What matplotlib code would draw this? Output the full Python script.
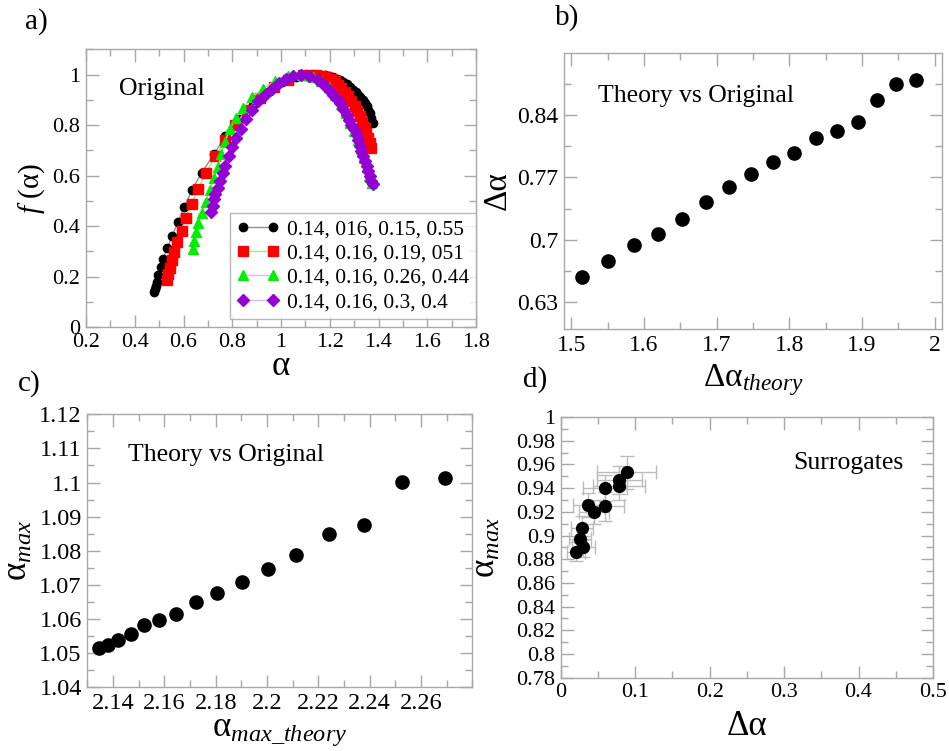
import numpy as np
import matplotlib
matplotlib.use("Agg")
import matplotlib.pyplot as plt
from matplotlib.ticker import MultipleLocator, FixedLocator, FuncFormatter

# --- DATA ---
# a) multifractal spectra f(alpha) for four parameter sets
legend_labels = ["0.14, 016, 0.15, 0.55", "0.14, 0.16, 0.19, 051",
                 "0.14, 0.16, 0.26, 0.44", "0.14, 0.16, 0.3, 0.4"]

alpha_1 = [0.479, 0.483, 0.487, 0.490, 0.496, 0.506, 0.517, 0.533, 0.554, 0.576, 0.604,
           0.634, 0.674, 0.725, 0.772, 0.828, 0.885, 0.945, 1.005, 1.063, 1.13, 1.15,
           1.165, 1.18, 1.195, 1.215, 1.228, 1.242, 1.255, 1.269, 1.283, 1.297, 1.307,
           1.317, 1.326, 1.335, 1.343, 1.351, 1.358, 1.365, 1.371, 1.376]
f_1 = [0.137, 0.150, 0.163, 0.179, 0.206, 0.236, 0.271, 0.312, 0.361, 0.415, 0.477,
       0.542, 0.611, 0.684, 0.759, 0.825, 0.880, 0.930, 0.970, 0.990, 1.000, 1.000,
       1.000, 0.998, 0.996, 0.990, 0.985, 0.978, 0.971, 0.962, 0.952, 0.940, 0.931,
       0.920, 0.911, 0.900, 0.888, 0.875, 0.862, 0.848, 0.830, 0.810]

alpha_2 = [0.531, 0.537, 0.544, 0.551, 0.562, 0.574, 0.592, 0.610, 0.633, 0.660, 0.692,
           0.730, 0.770, 0.813, 0.859, 0.913, 0.970, 1.030, 1.090, 1.120, 1.145, 1.166,
           1.186, 1.204, 1.220, 1.235, 1.248, 1.262, 1.275, 1.289, 1.302, 1.313, 1.323,
           1.333, 1.343, 1.350, 1.357, 1.364, 1.371]
f_2 = [0.187, 0.210, 0.232, 0.265, 0.298, 0.337, 0.381, 0.431, 0.488, 0.546, 0.611,
       0.676, 0.740, 0.802, 0.862, 0.908, 0.950, 0.980, 1.000, 1.000, 0.998, 0.995,
       0.990, 0.982, 0.974, 0.961, 0.947, 0.931, 0.914, 0.895, 0.875, 0.855, 0.835,
       0.812, 0.789, 0.770, 0.750, 0.730, 0.710]

alpha_3 = [0.637, 0.644, 0.651, 0.658, 0.675, 0.692, 0.708, 0.725, 0.742, 0.755, 0.770,
           0.790, 0.815, 0.845, 0.880, 0.925, 0.975, 1.030, 1.085, 1.130, 1.165, 1.195,
           1.220, 1.245, 1.265, 1.285, 1.300, 1.315, 1.328, 1.340, 1.352, 1.362, 1.372]
f_3 = [0.311, 0.341, 0.377, 0.411, 0.453, 0.495, 0.543, 0.592, 0.635, 0.684, 0.735,
       0.783, 0.830, 0.870, 0.910, 0.945, 0.975, 0.995, 1.000, 0.990, 0.975, 0.950,
       0.920, 0.885, 0.850, 0.810, 0.775, 0.740, 0.705, 0.670, 0.635, 0.600, 0.570]

alpha_4 = [0.711, 0.719, 0.725, 0.731, 0.740, 0.749, 0.760, 0.771, 0.785, 0.800, 0.815,
           0.834, 0.856, 0.879, 0.906, 0.935, 0.962, 0.990, 1.020, 1.050, 1.080, 1.115,
           1.150, 1.180, 1.200, 1.214, 1.228, 1.241, 1.255, 1.269, 1.279, 1.289, 1.300,
           1.310, 1.317, 1.323, 1.330, 1.337, 1.344, 1.351, 1.358, 1.364, 1.371, 1.376]
f_4 = [0.456, 0.480, 0.506, 0.526, 0.552, 0.578, 0.609, 0.638, 0.677, 0.714, 0.748,
       0.785, 0.825, 0.862, 0.895, 0.920, 0.945, 0.968, 0.985, 0.996, 1.000, 0.993,
       0.978, 0.954, 0.935, 0.921, 0.905, 0.888, 0.865, 0.842, 0.822, 0.802, 0.783,
       0.763, 0.740, 0.717, 0.697, 0.677, 0.657, 0.638, 0.618, 0.598, 0.580, 0.565]

# b) spectrum width, theory vs original
dalpha_theory = [1.515, 1.550, 1.586, 1.619, 1.653, 1.685, 1.717, 1.747, 1.778, 1.807,
                 1.836, 1.865, 1.894, 1.920, 1.947, 1.974]
dalpha_orig = [0.658, 0.676, 0.694, 0.707, 0.723, 0.742, 0.759, 0.774, 0.787, 0.797,
               0.814, 0.822, 0.832, 0.857, 0.875, 0.879]

# c) position of the maximum, theory vs original
amax_theory = [2.1346, 2.1381, 2.1421, 2.1469, 2.1519, 2.1580, 2.1646, 2.1724, 2.1806,
               2.1901, 2.2003, 2.2113, 2.2240, 2.2379, 2.2528, 2.2693]
amax_orig = [1.0514, 1.0524, 1.0539, 1.0556, 1.0584, 1.0597, 1.0616, 1.0649, 1.0677,
             1.0708, 1.0746, 1.0787, 1.0850, 1.0876, 1.1003, 1.1014]

# d) surrogates with error bars
dalpha_sur = [0.0886, 0.0787, 0.0787, 0.0595, 0.0595, 0.0371, 0.0447, 0.0282, 0.0259,
              0.0304, 0.0206]
amax_sur = [0.9535, 0.947, 0.942, 0.9397, 0.9245, 0.926, 0.920, 0.9065, 0.8972, 0.8907,
            0.8862]
dalpha_err = [0.040, 0.030, 0.035, 0.030, 0.025, 0.020, 0.020, 0.015, 0.015, 0.015, 0.012]
amax_err = [0.014, 0.012, 0.012, 0.011, 0.012, 0.010, 0.010, 0.010, 0.009, 0.009, 0.008]

# --- STYLE ---
plt.rcParams["font.family"] = ["Liberation Serif", "DejaVu Serif"]
plt.rcParams["mathtext.fontset"] = "custom"
plt.rcParams["mathtext.rm"] = "Liberation Serif"
plt.rcParams["mathtext.it"] = "Liberation Serif:italic"
frame_color = "#a8a8a8"

W, H = 949, 751
fig = plt.figure(figsize=(W / 100, H / 100), dpi=100)


def add_panel(left, right, top, bottom):
    # pixel box -> figure fraction
    return fig.add_axes([left / W, 1 - bottom / H, (right - left) / W, (bottom - top) / H])


def style_axes(ax, size=16):
    for sp in ax.spines.values():
        sp.set_color(frame_color)
        sp.set_linewidth(1.0)
    ax.tick_params(which="both", direction="in", top=True, right=True,
                   color=frame_color, width=1.0, labelsize=size)
    ax.tick_params(which="major", length=9, pad=4)
    ax.tick_params(which="minor", length=5)
    ax.xaxis.set_major_formatter(FuncFormatter(lambda v, p: "%g" % round(v, 4)))
    ax.yaxis.set_major_formatter(FuncFormatter(lambda v, p: "%g" % round(v, 4)))


# --- a) ---
ax_a = add_panel(86, 476, 49.5, 327)
series = [
    (alpha_1, f_1, "o", "black", "#909090", 6.0),
    (alpha_2, f_2, "s", "red", "#8cf08c", 6.5),
    (alpha_3, f_3, "^", "#00ee00", "#e8b8e0", 7.0),
    (alpha_4, f_4, "D", "#9400d3", "#dcb8f0", 5.8),
]
for (xs, ys, mk, mc, lc, ms), lab in zip(series, legend_labels):
    ax_a.plot(xs, ys, color=lc, lw=1.0, marker=mk, ms=ms, mfc=mc, mec=mc, label=lab)
ax_a.set_xlim(0.2, 1.8)
ax_a.set_ylim(0, 1.1)
ax_a.xaxis.set_major_locator(MultipleLocator(0.2))
ax_a.xaxis.set_minor_locator(MultipleLocator(0.1))
ax_a.yaxis.set_major_locator(MultipleLocator(0.2))
ax_a.yaxis.set_minor_locator(MultipleLocator(0.1))
style_axes(ax_a, 16)
ax_a.set_xlabel("α", fontsize=25)
ax_a.xaxis.set_label_coords(0.5, -0.082)
ax_a.set_ylabel(r"$f$ (α)", fontsize=21)
ax_a.yaxis.set_label_coords(-0.1, 0.5)
ax_a.text(0.085, 0.835, "Original", transform=ax_a.transAxes, fontsize=18.5,
          va="baseline")
leg = ax_a.legend(loc="lower right", bbox_to_anchor=(1.0, 0.03), fontsize=15.5, numpoints=2,
                  handlelength=2.0, handletextpad=0.35, borderpad=0.3, labelspacing=0.2,
                  borderaxespad=0.0, fancybox=False)
leg.get_frame().set_edgecolor(frame_color)
leg.get_frame().set_linewidth(1.0)

# --- b) ---
ax_b = add_panel(564, 942, 52.7, 329)
ax_b.plot(dalpha_theory, dalpha_orig, "o", color="black", ms=9.5)
ax_b.set_xlim(1.49, 2.01)
ax_b.set_ylim(0.6, 0.91)
ax_b.xaxis.set_major_locator(MultipleLocator(0.1))
ax_b.xaxis.set_minor_locator(MultipleLocator(0.05))
ax_b.yaxis.set_major_locator(FixedLocator([0.63, 0.70, 0.77, 0.84]))
ax_b.yaxis.set_minor_locator(FixedLocator([0.665, 0.735, 0.805, 0.875]))
style_axes(ax_b, 17)
ax_b.set_xlabel(r"Δα$_{\mathit{theory}}$", fontsize=24)
ax_b.xaxis.set_label_coords(0.5, -0.12)
ax_b.set_ylabel("Δα", fontsize=24)
ax_b.yaxis.set_label_coords(-0.135, 0.5)
ax_b.text(0.09, 0.82, "Theory vs Original", transform=ax_b.transAxes, fontsize=18.5)

# --- c) ---
ax_c = add_panel(87.3, 472.3, 414.3, 687.3)
ax_c.plot(amax_theory, amax_orig, "o", color="black", ms=9.5)
ax_c.set_xlim(2.13, 2.28)
ax_c.set_ylim(1.04, 1.12)
ax_c.xaxis.set_major_locator(MultipleLocator(0.02))
ax_c.xaxis.set_minor_locator(MultipleLocator(0.01))
ax_c.yaxis.set_major_locator(MultipleLocator(0.01))
ax_c.yaxis.set_minor_locator(MultipleLocator(0.005))
style_axes(ax_c, 17.5)
ax_c.set_xticks([2.14, 2.16, 2.18, 2.2, 2.22, 2.24, 2.26])
ax_c.set_xlabel(r"α$_{\mathit{max\_theory}}$", fontsize=25)
ax_c.xaxis.set_label_coords(0.5, -0.1)
ax_c.set_ylabel(r"α$_{\mathit{max}}$", fontsize=25)
ax_c.yaxis.set_label_coords(-0.135, 0.5)
ax_c.text(0.105, 0.83, "Theory vs Original", transform=ax_c.transAxes, fontsize=18.5)

# --- d) ---
ax_d = add_panel(560.7, 933, 417, 677.7)
ax_d.errorbar(dalpha_sur, amax_sur, xerr=dalpha_err, yerr=amax_err, fmt="o", color="black",
              ms=8.5, ecolor="#bcbcbc", elinewidth=1.0, capsize=5, capthick=1.0)
ax_d.set_xlim(0, 0.5)
ax_d.set_ylim(0.78, 1.0)
ax_d.xaxis.set_major_locator(MultipleLocator(0.1))
ax_d.xaxis.set_minor_locator(MultipleLocator(0.05))
ax_d.yaxis.set_major_locator(MultipleLocator(0.02))
ax_d.yaxis.set_minor_locator(MultipleLocator(0.01))
style_axes(ax_d, 16)
ax_d.set_xlabel("Δα", fontsize=25)
ax_d.xaxis.set_label_coords(0.5, -0.125)
ax_d.set_ylabel(r"α$_{\mathit{max}}$", fontsize=25)
ax_d.yaxis.set_label_coords(-0.155, 0.5)
ax_d.text(0.625, 0.8, "Surrogates", transform=ax_d.transAxes, fontsize=18.5)

# --- panel letters ---
fig.text(25 / W, 1 - 8 / H, "a)", fontsize=21, va="top")
fig.text(555 / W, 1 - 4 / H, "b)", fontsize=21, va="top")
fig.text(18 / W, 1 - 370 / H, "c)", fontsize=21, va="top")
fig.text(523 / W, 1 - 366 / H, "d)", fontsize=21, va="top")

fig.savefig("out.png", dpi=100)
